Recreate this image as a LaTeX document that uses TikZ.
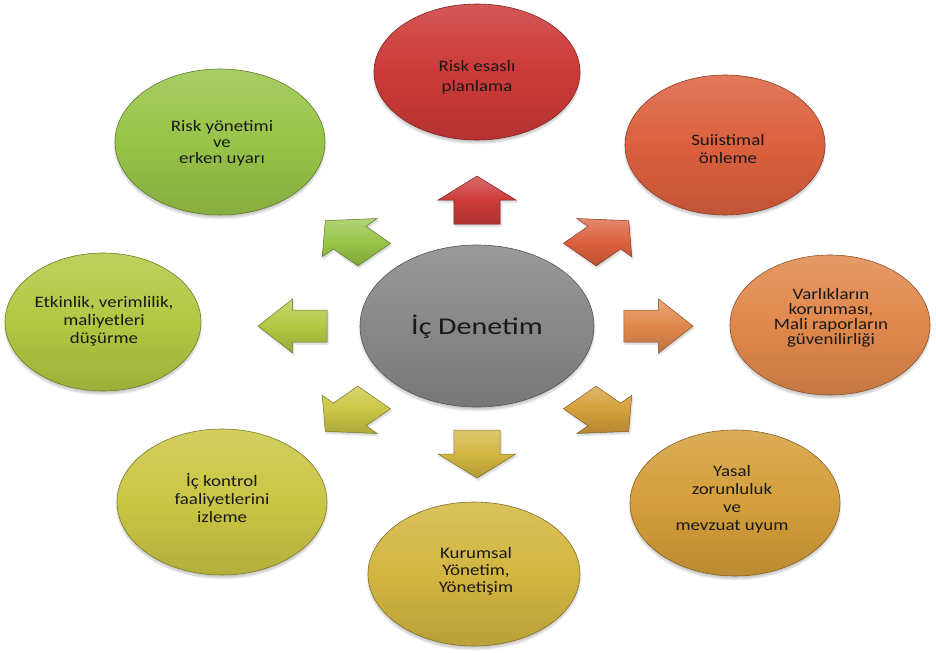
\documentclass[tikz,border=0pt]{standalone}
\usepackage{fontspec}
\setmainfont{Carlito}
\usetikzlibrary{shapes.geometric,shadows.blur}

% fill colours of the eight goals and the hub
\definecolor{cRed}{RGB}{204,58,56}
\definecolor{cRust}{RGB}{220,96,62}
\definecolor{cOrange}{RGB}{224,136,76}
\definecolor{cAmber}{RGB}{212,158,58}
\definecolor{cGold}{RGB}{210,182,64}
\definecolor{cOlive}{RGB}{202,198,68}
\definecolor{cLime}{RGB}{178,200,66}
\definecolor{cGreen}{RGB}{152,196,72}
\definecolor{cHub}{RGB}{136,136,136}

% horizontally widened, centred multi-line text
\newcommand\widetext[2][1.18]{\scalebox{#1}[1]{\begin{tabular}{@{}c@{}}#2\end{tabular}}}
% one block arrow pointing along +x, centred on the origin
\newcommand\arrowoutline{(-24,-16) -- (0,-16) -- (0,-27) -- (24,0) -- (0,27) -- (0,16) -- (-24,16) -- cycle}

\tikzset{
  goal/.style={ellipse, inner sep=0pt, draw=#1!62!black, line width=0.6pt,
    top color=#1!85!white, bottom color=#1!88!black, middle color=#1,
    blur shadow={shadow xshift=0pt, shadow yshift=-3pt, shadow opacity=22, shadow blur steps=6}},
  goaltext/.style={inner sep=0pt, text=black!90, font=\fontsize{16}{18}\selectfont},
  blockarrow/.style={draw=#1!60!black, line width=0.5pt,
    top color=#1!75!white, bottom color=#1!85!black, middle color=#1,
    blur shadow={shadow xshift=1pt, shadow yshift=-2pt, shadow opacity=20, shadow blur steps=4}}
}

\begin{document}
\begin{tikzpicture}[x=1pt, y=1pt]
\useasboundingbox (0,0) rectangle (936,-655);

% hub
\node[goal=cHub, minimum width=234pt, minimum height=162pt] (core) at (477,-326) {};
\node[inner sep=0pt, text=black!90, font=\fontsize{24}{28}\selectfont] (core-t) at (477,-327) {\scalebox{1.25}[1]{İç Denetim}};

% goals around the hub
\node[goal=cRed,    minimum width=206pt, minimum height=136pt] (plan)  at (477,-72)  {};
\node[goal=cRust,   minimum width=200pt, minimum height=140pt] (fraud) at (725,-145) {};
\node[goal=cOrange, minimum width=200pt, minimum height=140pt] (asset) at (830,-325) {};
\node[goal=cAmber,  minimum width=210pt, minimum height=146pt] (legal) at (735,-503) {};
\node[goal=cGold,   minimum width=212pt, minimum height=144pt] (corp)  at (474,-574) {};
\node[goal=cOlive,  minimum width=210pt, minimum height=146pt] (ctrl)  at (222,-502) {};
\node[goal=cLime,   minimum width=196pt, minimum height=138pt] (eff)   at (103,-322) {};
\node[goal=cGreen,  minimum width=210pt, minimum height=146pt] (risk)  at (220,-142) {};

% goal labels
\node[goaltext] (plan-t)  at (477,-78)  {\widetext{Risk esaslı\\[2pt]planlama}};
\node[goaltext] (fraud-t) at (728,-151) {\widetext{Suiistimal\\önleme}};
\node[goaltext] (asset-t) at (831,-318) {\widetext{Varlıkların\\[-3pt]korunması,\\[-3pt]Mali raporların\\[-3pt]güvenilirliği}};
\node[goaltext] (legal-t) at (732,-500) {\widetext{Yasal\\zorunluluk\\ve\\mevzuat uyum}};
\node[goaltext] (corp-t)  at (476,-572) {\widetext{Kurumsal\\[-1pt]Yönetim,\\[-1pt]Yönetişim}};
\node[goaltext] (ctrl-t)  at (222,-501) {\widetext{İç kontrol\\faaliyetlerini\\izleme}};
\node[goaltext] (eff-t)   at (104,-322) {\widetext{Etkinlik, verimlilik,\\maliyetleri\\düşürme}};
\node[goaltext] (risk-t)  at (222,-144) {\widetext{Risk yönetimi\\[-2pt]ve\\[-2pt]erken uyarı}};

% block arrows radiating from the hub (drawn in the unstretched frame)
\begin{scope}[shift={(core.center)}, xscale=1.44]
  \path[blockarrow=cRed,    rotate=90,  xshift=126] \arrowoutline;
  \path[blockarrow=cRust,   rotate=45,  xshift=125] \arrowoutline;
  \path[blockarrow=cOrange, rotate=0,   xshift=126] \arrowoutline;
  \path[blockarrow=cAmber,  rotate=-45, xshift=125] \arrowoutline;
  \path[blockarrow=cGold,   rotate=-90, xshift=128] \arrowoutline;
  \path[blockarrow=cOlive,  rotate=-135,xshift=125] \arrowoutline;
  \path[blockarrow=cLime,   rotate=180, xshift=128] \arrowoutline;
  \path[blockarrow=cGreen,  rotate=135, xshift=125] \arrowoutline;
\end{scope}
\end{tikzpicture}
\end{document}
